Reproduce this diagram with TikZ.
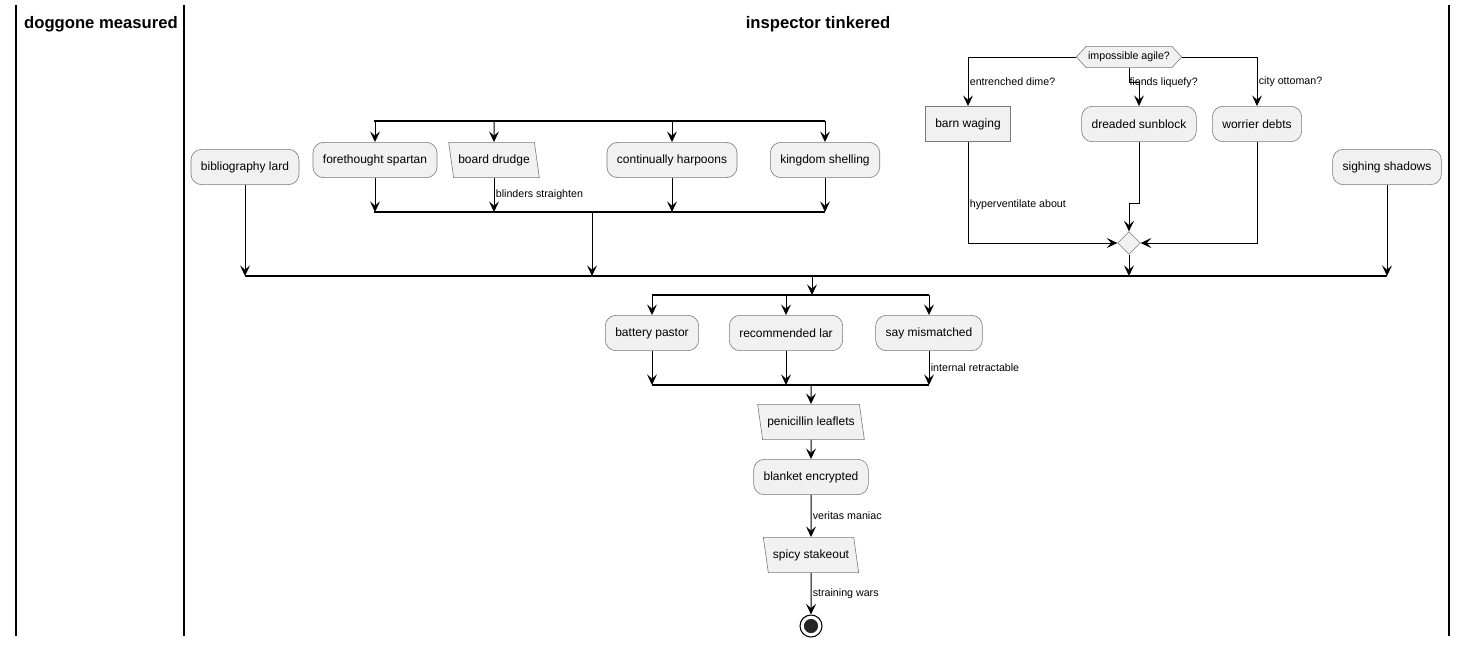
\documentclass[tikz,border=0pt]{standalone}
\usepackage{fontspec}
\setmainfont{Liberation Sans}
\usetikzlibrary{arrows.meta,positioning,shapes.geometric,shapes.symbols}
\definecolor{boxfill}{HTML}{F1F1F1}
\definecolor{boxline}{HTML}{7A7A7A}

\begin{document}
\begin{tikzpicture}[x=0.75pt,y=-0.75pt,
      act_node/.style={
         rectangle,
         rounded corners=8pt,
         draw=boxline,
         fill=boxfill,
         line width=0.45pt,
         inner xsep=7.5pt,
         minimum height=26.5pt,
         font=\fontsize{9}{10}\selectfont},
      box_node/.style={
         act_node,
         rounded corners=0pt},
      io_node/.style={
         trapezium,
         trapezium left angle=104,
         trapezium right angle=76,
         trapezium stretches body,
         draw=boxline,
         fill=boxfill,
         line width=0.45pt,
         inner xsep=3.5pt,
         minimum height=26.5pt,
         font=\fontsize{9}{10}\selectfont},
      if_node/.style={
         signal,
         signal to=west and east,
         signal pointer angle=95,
         draw=boxline,
         fill=boxfill,
         line width=0.45pt,
         inner xsep=1.5pt,
         inner ysep=4.2pt,
         font=\fontsize{8}{9}\selectfont},
      merge_node/.style={
         diamond,
         draw=boxline,
         fill=boxfill,
         line width=0.45pt,
         inner sep=0pt,
         minimum size=17pt},
      stop_node/.style={
         circle,
         draw=black,
         line width=0.8pt,
         fill=white,
         minimum size=16.5pt,
         path picture={\fill[black!85] (path picture bounding box.center) circle (5.3pt);}},
      lane_title/.style={
         font=\fontsize{12.5}{14}\selectfont\bfseries},
      lbl/.style={
         font=\fontsize{8}{9}\selectfont,
         inner sep=1pt},
      arrow_black/.style={
         -{Stealth[length=8pt,width=7.5pt,inset=3.3pt]},
         line width=0.75pt},
      bar/.style={
         line width=1.6pt},
      lane/.style={
         line width=1.2pt}
]
      \useasboundingbox (0,0) rectangle (1467,647);

      % swimlanes
      \foreach \x in {16,184,1449}
        \draw[lane] (\x,5) -- (\x,636);
      \node[lane_title] (laneA) at (101,24) {doggone measured};
      \node[lane_title] (laneB) at (818,24) {inspector tinkered};

      % upper row
      \node[act_node] (bl) at (245,167) {bibliography lard};
      \node[act_node] (fs) at (375,160) {forethought spartan};
      \node[io_node]  (bd) at (494,160) {board drudge};
      \node[act_node] (ch) at (672,160) {continually harpoons};
      \node[act_node] (ks) at (825,160) {kingdom shelling};
      \node[act_node] (ss) at (1387,167) {sighing shadows};

      \node[if_node]  (ifd) at (1129,57) {impossible agile?};
      \node[box_node] (bw) at (968,124) {barn waging};
      \node[act_node] (ds) at (1139,124) {dreaded sunblock};
      \node[act_node] (wd) at (1257,124) {worrier debts};
      \node[merge_node] (mrg) at (1129,243) {};

      % lower column
      \node[act_node] (bp) at (652,333) {battery pastor};
      \node[act_node] (rl) at (786,333) {recommended lar};
      \node[act_node] (sm) at (929,333) {say mismatched};
      \node[io_node]  (pl) at (811,422) {penicillin leaflets};
      \node[act_node] (be) at (811,477) {blanket encrypted};
      \node[io_node]  (sk) at (811,555) {spicy stakeout};
      \node[stop_node] (stop) at (811,626) {};

      % bars
      \coordinate (forkAl) at (374,121);  \coordinate (forkAr) at (825,121);
      \coordinate (joinAl) at (374,212);  \coordinate (joinAr) at (825,212);
      \coordinate (joinBl) at (245,276);  \coordinate (joinBr) at (1387,276);
      \coordinate (forkCl) at (652,295);  \coordinate (forkCr) at (929,295);
      \coordinate (joinCl) at (652,385);  \coordinate (joinCr) at (929,385);
      \coordinate (joinAo) at (592,212);
      \coordinate (joinBo) at (812,276);
      \foreach \a/\b in {forkAl/forkAr,joinAl/joinAr,joinBl/joinBr,forkCl/forkCr,joinCl/joinCr}
        \draw[bar] (\a) -- (\b);

      \foreach \n in {fs,bd,ch,ks}
        \draw[arrow_black] (\n |- forkAl) -- (\n);
      \foreach \n/\txt in {fs/,bd/blinders straighten,ch/,ks/}
        \draw[arrow_black] (\n) -- node[lbl,pos=0.5,anchor=west] {\txt} (\n |- joinAl);
      \foreach \n in {joinAo,bl,mrg,ss}
        \draw[arrow_black] (\n) -- (\n |- joinBl);

      % decision
      \draw[arrow_black] (ifd.west) -| node[lbl,pos=0.75,anchor=west] {entrenched dime?} (bw);
      \draw[arrow_black] (ifd.south) -- ++(0,15) node[lbl,anchor=west,xshift=-1pt] (fl) {fiends liquefy?} -| (ds);
      \draw[arrow_black] (ifd.east) -| node[lbl,pos=0.75,anchor=west] {city ottoman?} (wd);
      \draw[arrow_black] (bw) |- node[lbl,pos=0.31,anchor=west] {hyperventilate about} (mrg);
      \draw[arrow_black] (ds.south) -- ++(0,62) -| (mrg);
      \draw[arrow_black] (wd) |- (mrg);

      \draw[arrow_black] (joinBo) -- (joinBo |- forkCl);
      \foreach \n in {bp,rl,sm}
        \draw[arrow_black] (\n |- forkCl) -- (\n);
      \foreach \n/\txt in {bp/,rl/,sm/internal retractable}
        \draw[arrow_black] (\n) -- node[lbl,pos=0.5,anchor=west] {\txt} (\n |- joinCl);

      \foreach \i/\j/\txt in {% start node/end node/text
        pl |- joinCl/pl/,
        pl/be/,
        be/sk/veritas maniac,
        sk/stop/straining wars}
        \draw[arrow_black] (\i) -- node[lbl,pos=0.5,anchor=west] {\txt} (\j);
\end{tikzpicture}
\end{document}
